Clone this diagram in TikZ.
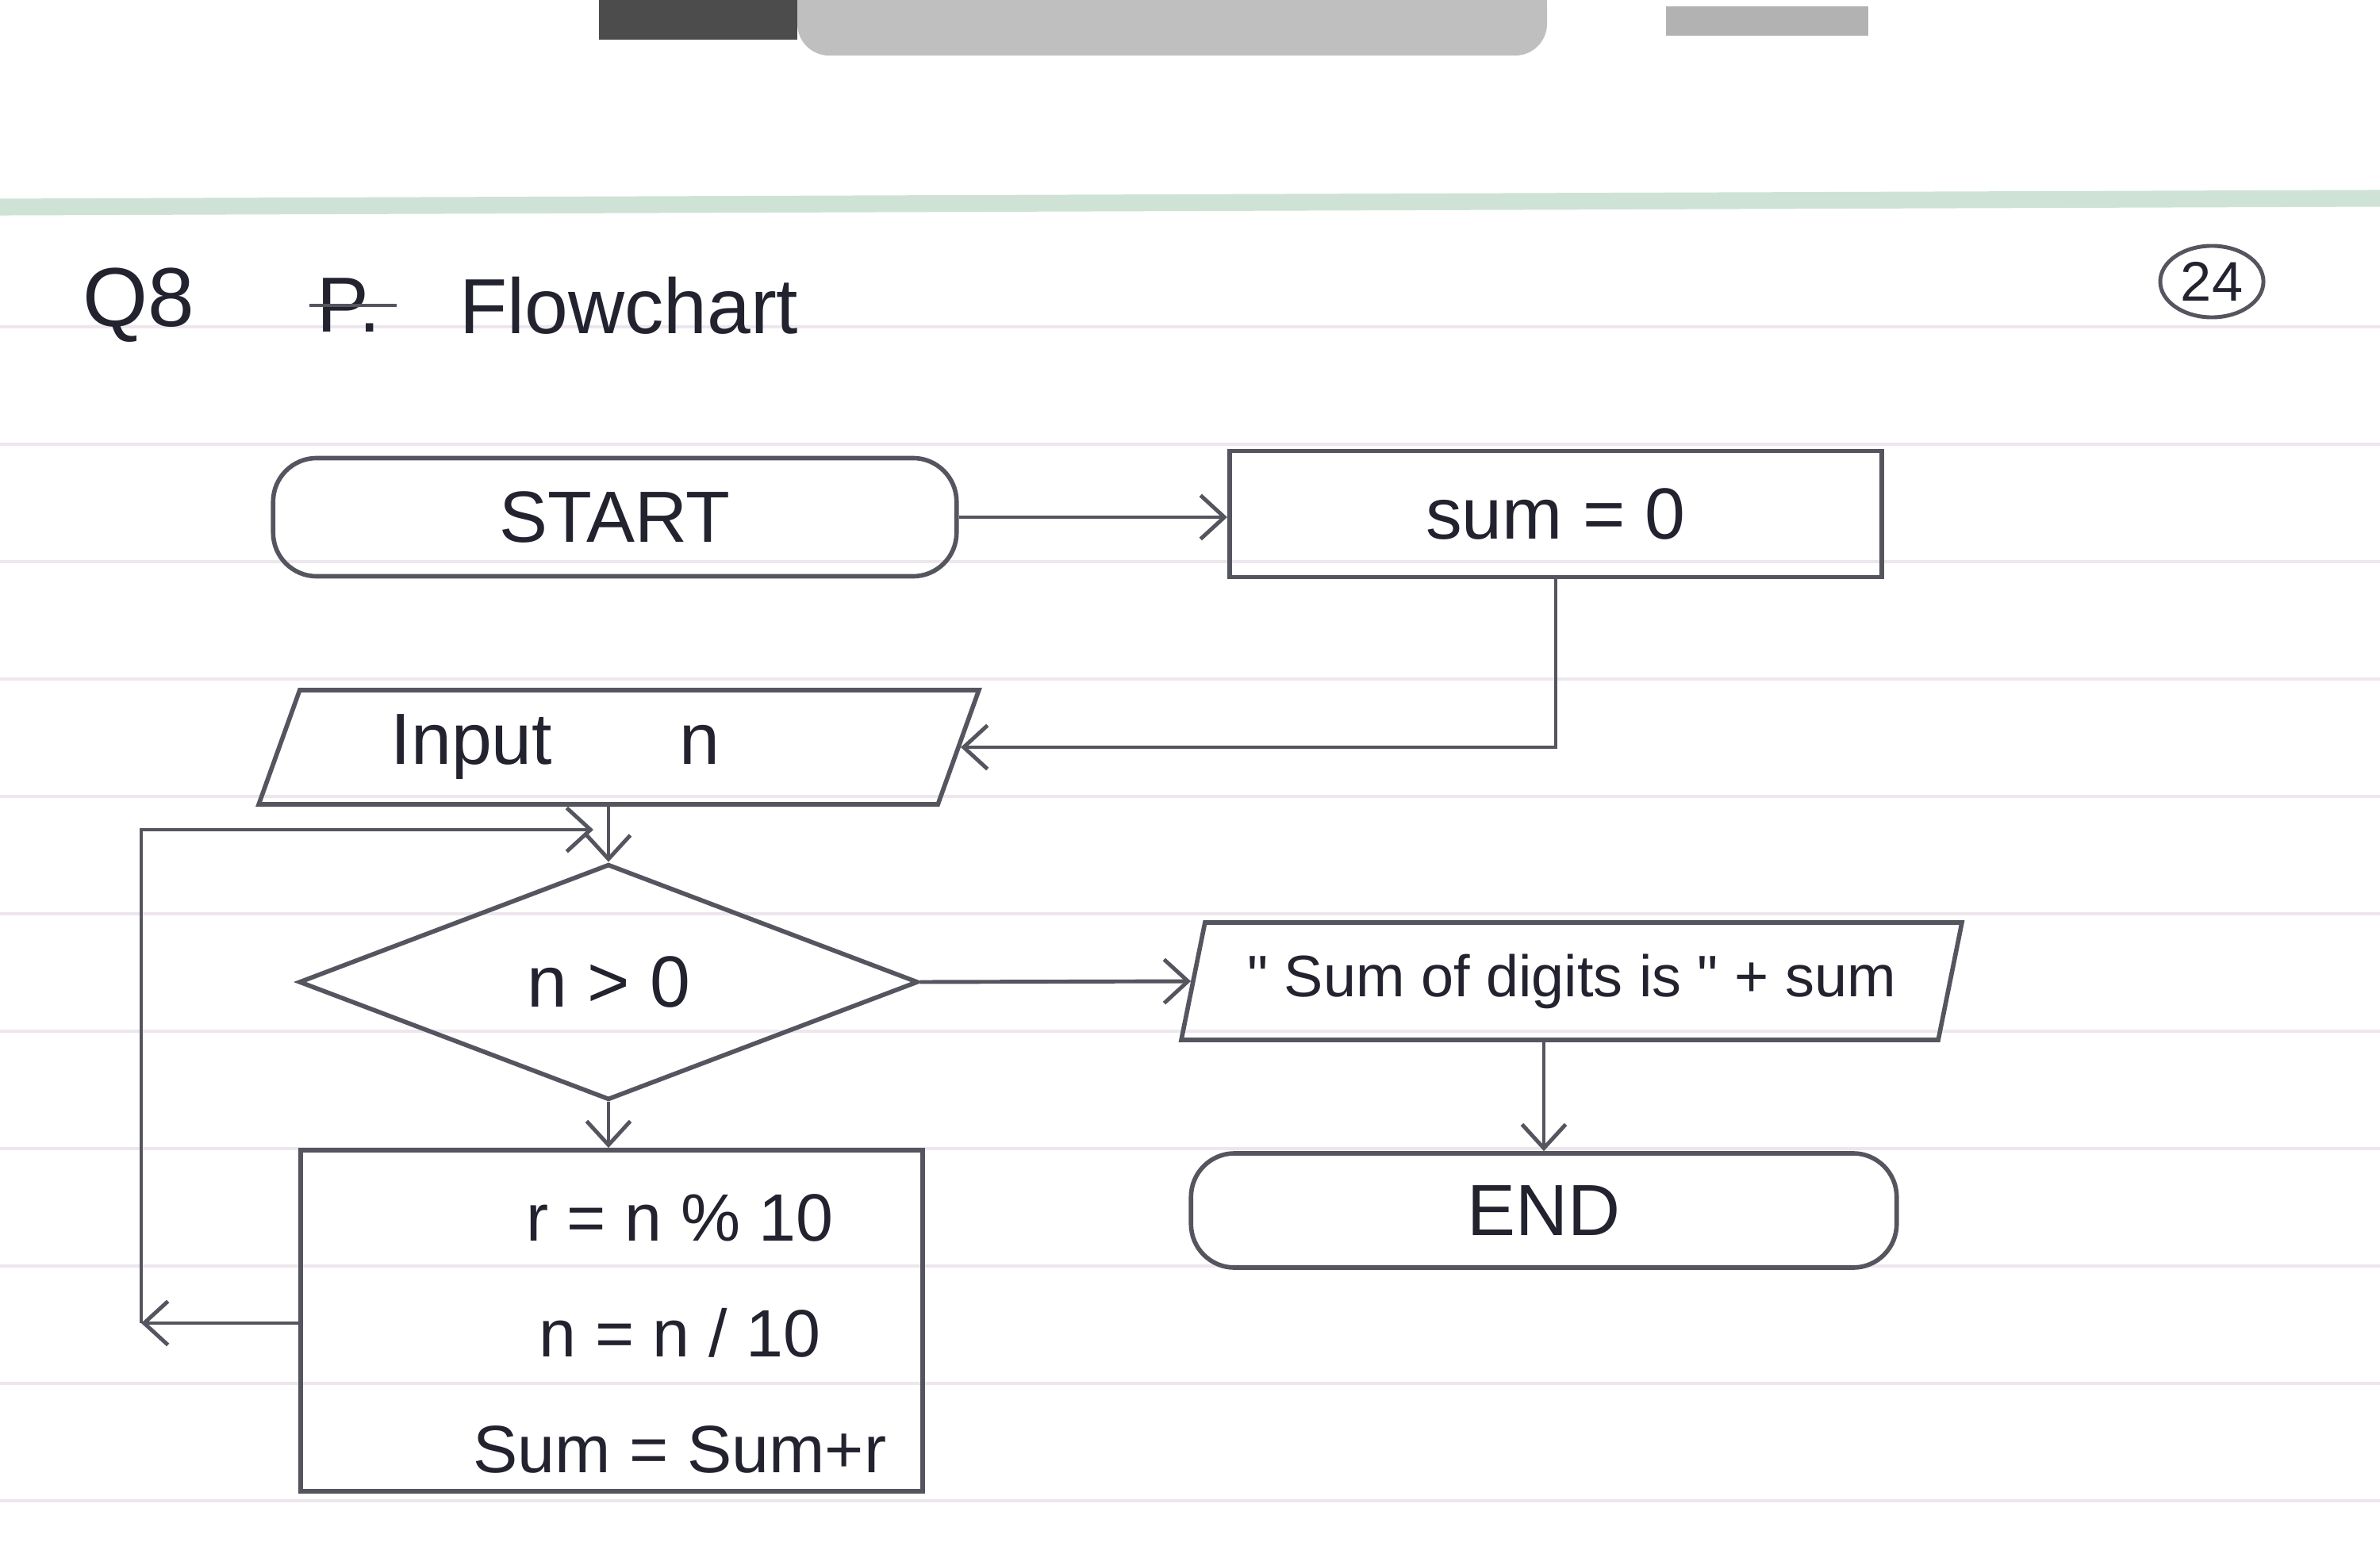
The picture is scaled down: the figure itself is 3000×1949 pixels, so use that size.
\documentclass[tikz,border=0pt]{standalone}
\usepackage{fontspec}
\setmainfont{Liberation Sans}
\usetikzlibrary{shapes.geometric,arrows.meta}
\definecolor{ink}{HTML}{22232F}
\definecolor{pencil}{HTML}{55555F}
\definecolor{ruled}{HTML}{EDE6ED}
\definecolor{margin}{HTML}{CFE2D6}
\begin{document}
\begin{tikzpicture}[x=0.01cm, y=-0.01cm,
  box/.style={draw=pencil, line width=1.6pt, text=ink, font=\fontsize{26}{30}\selectfont, inner sep=0pt},
  term/.style={box, rectangle, rounded corners=0.55cm},
  io/.style={box, trapezium, trapezium stretches=true},
  flow/.style={draw=pencil, line width=1.4pt, -{Straight Barb[length=0.3cm, width=0.55cm]}}
]
\useasboundingbox (0,0) rectangle (3000,1949);
\fill [white] (0,0) rectangle (3000,1949);

% notebook page
\fill [black!70] (755,0) rectangle (1005,50);
\fill [black!25, rounded corners=0.4cm] (1005,-40) rectangle (1950,70);
\fill [black!30] (2100,0) rectangle (2355,45);
\fill [white] (1950,0) rectangle (2355,8);
\draw [margin, line width=6pt] (0,261) -- (3000,250);
\foreach \y in {412,560,708,856,1004,1152,1300,1448,1596,1744,1892}
  \draw [ruled, line width=1.2pt] (0,\y) -- (3000,\y);

% heading
\node [text=ink, font=\fontsize{30}{34}\selectfont] (qno) at (175,385) {Q8};
\node [text=ink, font=\fontsize{28}{32}\selectfont] (ans) at (440,385) {P.};
\draw [pencil, line width=1.4pt] ([xshift=-0.5cm]ans.center) -- ([xshift=0.6cm]ans.center);
\node [text=ink, font=\fontsize{28}{32}\selectfont] (title) at (793,385) {Flowchart};
\node [ellipse, draw=pencil, line width=1.4pt, minimum width=1.3cm, minimum height=0.9cm, inner sep=0pt, text=ink, font=\fontsize{20}{24}\selectfont] (page) at (2788,355) {24};

% flowchart
\node [term, minimum width=8.61cm, minimum height=1.49cm] (start) at (775,652) {START};
\node [box, rectangle, minimum width=8.22cm, minimum height=1.59cm] (sum) at (1961,648) {sum = 0};
\node [io, trapezium left angle=72, trapezium right angle=108, minimum width=9.09cm, minimum height=1.44cm] (input) at (780,942) {\rlap{\hspace{-0.8cm}Input\hspace{1.6cm}n}\phantom{Input\hspace{1.6cm}n}};
\node [box, diamond, minimum width=7.8cm, minimum height=2.97cm] (test) at (767,1238) {n > 0};
\node [io, trapezium left angle=69, trapezium right angle=111, minimum width=9.86cm, minimum height=1.48cm, font=\fontsize{21}{25}\selectfont] (output) at (1981,1237) {\textquotedbl\ Sum of digits is \textquotedbl\ + sum};
\node [term, minimum width=8.89cm, minimum height=1.44cm] (end) at (1946,1526) {END};
\node [box, rectangle, minimum width=7.84cm, minimum height=4.3cm] (proc) at (771,1665) {};
\node [text=ink, align=center, font=\fontsize{24}{41.5}\selectfont] (proctext) at (857,1681) {r = n \% 10\\n = n / 10\\Sum = Sum+r};

\coordinate (loopL) at (178,1668);
\coordinate (loopT) at (178,1046);
\coordinate (loopin) at (748,1046);

\draw [flow] (start.east) -- (start.east -| sum.west);
\draw [flow] (sum.south) |- (input.east);
\draw [flow] (input.south -| test.north) -- (test.north);
\draw [flow] (test.east) -- (output.west);
\draw [flow] (end.north |- output.south) -- (end.north);
\draw [flow] (test.south) -- (proc.north -| test.south);
\draw [flow] (proc.west |- loopL) -- (loopL);
\draw [flow] (loopL) -- (loopT) -- (loopin);
\end{tikzpicture}
\end{document}
